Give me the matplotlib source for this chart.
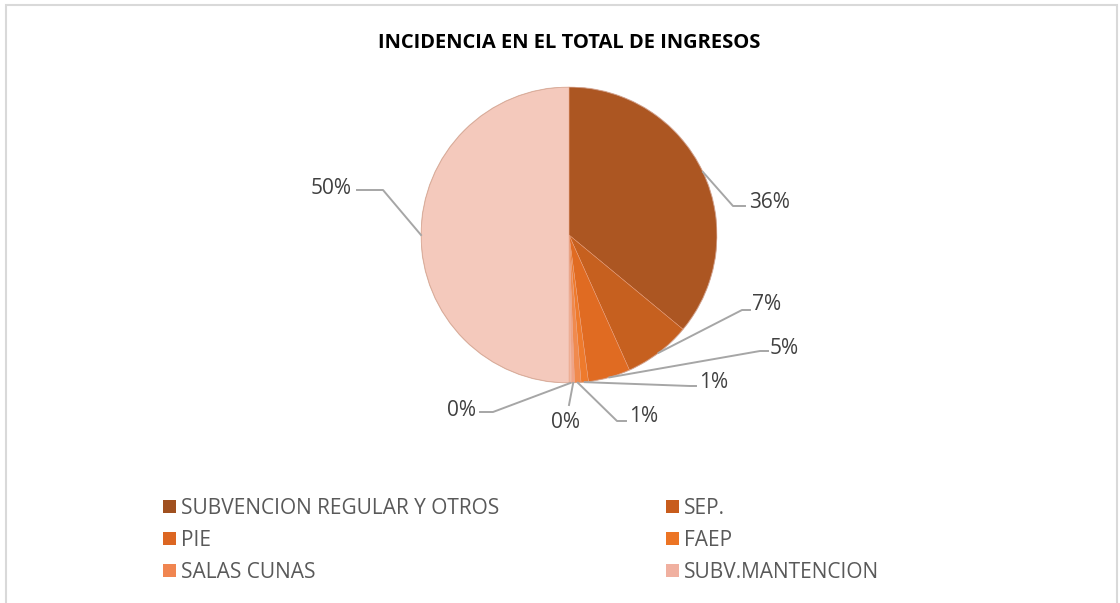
import numpy as np
import matplotlib
matplotlib.use("Agg")
import matplotlib.pyplot as plt
from matplotlib.patches import Rectangle
from matplotlib.lines import Line2D

# ---- data ----
title = "INCIDENCIA EN EL TOTAL DE INGRESOS"
categories = ["SUBVENCION REGULAR Y OTROS", "SEP.", "PIE", "FAEP",
              "SALAS CUNAS", "SUBV.MANTENCION"]
values = [36.0, 7.3, 4.6, 0.8, 0.7, 0.3, 0.3, 50.0]
colors = ["#AC5622", "#C6601F", "#E06B22", "#EE7A2C", "#F08A4E",
          "#F0A488", "#F2B7A2", "#F4C9BC"]
legend_colors = ["#A0501F", "#C85C1C", "#DC6622", "#EC7424", "#F08550", "#F0B0A0"]

W, H = 1120, 603
fig = plt.figure(figsize=(W / 100, H / 100), dpi=100)
fig.patch.set_facecolor("white")

# outer chart border
fig.add_artist(Rectangle((6 / W, -0.01), (1117 - 6) / W, 1.01 - 5 / H,
                         transform=fig.transFigure, fill=False,
                         edgecolor="#D9D9D9", lw=1.5))

cx, cy, R = 569, 235, 148
ax = fig.add_axes([(cx - R) / W, (H - cy - R) / H, 2 * R / W, 2 * R / H])
wedges, _ = ax.pie(values, colors=colors, startangle=90, counterclock=False,
                   radius=1, wedgeprops=dict(linewidth=0.3, edgecolor="#E8A080"))
ax.set_xlim(-1, 1)
ax.set_ylim(-1, 1)
ax.set_aspect("equal")
ax.axis("off")
ax.add_patch(plt.Circle((0, 0), 1.0, fill=False, edgecolor="#C9A090", lw=0.8, alpha=0.6))


def px(x, y):
    return ((x - cx) / R, (cy - y) / R)


# label layout: (elbow px, line end px, text px, ha)
layout = [
    ((733, 206), (745, 206), (749, 203), "left"),
    ((742, 310), (750, 310), (752, 305), "left"),
    ((760, 351), (768, 351), (770, 348), "left"),
    ((690, 386), (696, 386), (699, 383), "left"),
    ((617, 421), (626, 421), (629, 416), "left"),
    ((569, 405), (569, 405), (566, 422), "center"),
    ((493, 412), (480, 412), (476, 410), "right"),
    ((383, 190), (357, 190), (352, 188), "right"),
]

total = sum(values)
for w, v, (elb, end, tp, ha) in zip(wedges, values, layout):
    ang = np.deg2rad((w.theta1 + w.theta2) / 2)
    ax_, ay_ = np.cos(ang), np.sin(ang)
    e = px(*elb)
    n = px(*end)
    ax.add_line(Line2D([ax_, e[0], n[0]], [ay_, e[1], n[1]], color="#A6A6A6",
                       lw=1.4, clip_on=False))
    t = px(*tp)
    ax.text(t[0], t[1], f"{round(v / total * 100):.0f}%", ha=ha, va="center",
            fontsize=15, color="#404040", family="Open Sans", clip_on=False)

fig.text(cx / W, 1 - 43 / H, title, ha="center", va="center", fontsize=14.5,
         fontweight="bold", color="#000000", family="Open Sans")

# legend, two columns, row-major order
handles = [Rectangle((0, 0), 1, 1, facecolor=c, edgecolor="none") for c in legend_colors]
cols = [(163, [0, 2, 4]), (666, [1, 3, 5])]
for x0, idx in cols:
    leg = fig.legend([handles[i] for i in idx], [categories[i] for i in idx],
                     loc="upper left", bbox_to_anchor=(x0 / W, 1 - 498 / H),
                     frameon=False, labelcolor="#595959",
                     handlelength=0.6, handleheight=0.6, handletextpad=0.25,
                     labelspacing=0.52, borderpad=0, borderaxespad=0,
                     prop={"family": "Open Sans", "size": 15})
    for t in leg.get_texts():
        t.set_color("#595959")

fig.savefig("out.png", dpi=100, facecolor="white")
